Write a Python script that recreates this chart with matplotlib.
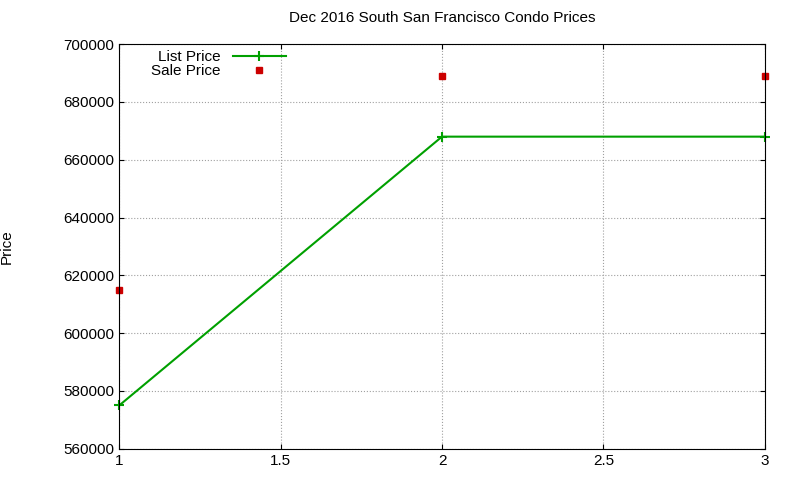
import matplotlib
matplotlib.use("Agg")
import matplotlib.pyplot as plt

x = [1, 2, 3]
list_price = [575000, 668000, 668000]
sale_price = [615000, 689000, 689000]

plt.rcParams['font.family'] = ['Liberation Sans', 'DejaVu Sans']
fig = plt.figure(figsize=(8, 4.8), dpi=100)
ax = fig.add_axes([0.149, 0.065, 0.807, 0.843])
ax.plot(x, list_price, color='#00a000', marker='+', markersize=7, markeredgewidth=1.5, linewidth=1.5, label='List Price', clip_on=False)
ax.plot(x, sale_price, color='#cc0000', marker='s', markersize=5, linestyle='none', label='Sale Price', clip_on=False)
ax.set_xlim(1, 3)
ax.set_ylim(560000, 700000)
ax.set_xticks([1, 1.5, 2, 2.5, 3])
ax.set_xticklabels(['1', '1.5', '2', '2.5', '3'])
ax.set_yticks(range(560000, 700001, 20000))
ax.tick_params(direction='in', top=True, right=True, labelsize=11)
ax.grid(True, color='#a0a0a0', linestyle=':', linewidth=0.8)
ax.set_title('Dec 2016 South San Francisco Condo Prices', fontsize=11, pad=16)
ax.set_ylabel('Price', fontsize=11, labelpad=36)
ax.legend(loc='upper left', bbox_to_anchor=(0.03, 1.015), frameon=False, markerfirst=False,
          fontsize=11, handlelength=3.5, borderpad=0.3, labelspacing=0.0)
fig.savefig('out.png')
